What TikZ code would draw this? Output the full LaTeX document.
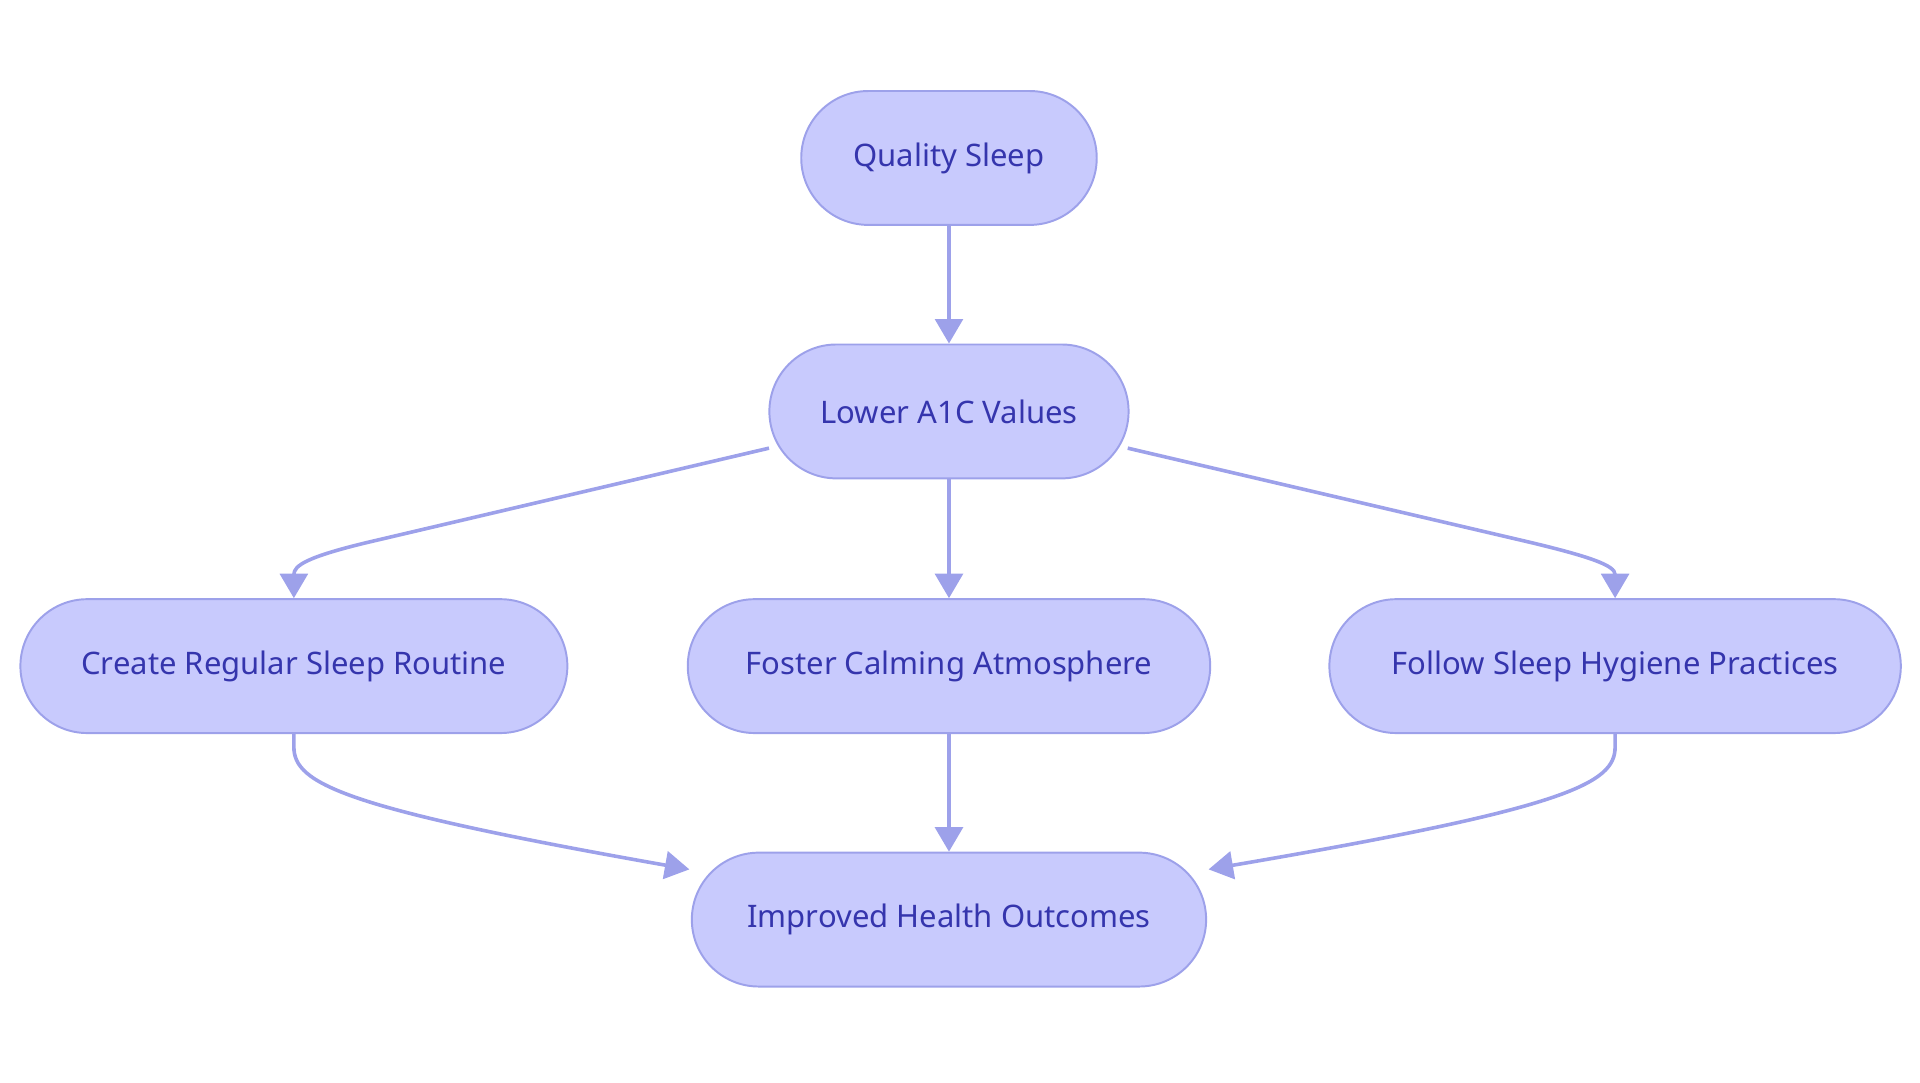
\documentclass[tikz,border=0pt]{standalone}
\usepackage{fontspec}
\setmainfont{Noto Sans}
\usetikzlibrary{arrows.meta}
\definecolor{nfill}{HTML}{C8CAFD}
\definecolor{nline}{HTML}{9DA1EA}
\definecolor{ntext}{HTML}{3535AD}
\begin{document}
\begin{tikzpicture}[x=0.75pt,y=-0.75pt,
  box/.style={draw=nline,line width=1.2pt,fill=nfill,rounded corners=41pt,minimum height=82pt,inner sep=0pt,text=ntext,font=\fontsize{19}{23}\selectfont},
  edge/.style={draw=nline,line width=2.2pt,-{Triangle[length=15pt,width=17pt]}}]
\useasboundingbox (0,0) rectangle (1568,884);
\node[box,minimum width=181pt] (qs) at (775,129) {Quality Sleep};
\node[box,minimum width=220pt] (a1c) at (775,336) {Lower A1C Values};
\node[box,minimum width=335pt] (cr) at (240,544) {Create Regular Sleep Routine};
\node[box,minimum width=320pt] (fc) at (775,544) {Foster Calming Atmosphere};
\node[box,minimum width=350pt] (fs) at (1319,544) {Follow Sleep Hygiene Practices};
\node[box,minimum width=315pt] (ih) at (775,751) {Improved Health Outcomes};
\coordinate (a1cl) at (628,366);
\coordinate (a1cr) at (921,366);
\coordinate (ihl) at (563,710);
\coordinate (ihr) at (987,710);
\draw[edge] (qs) -- (a1c);
\draw[edge] (a1c) -- (fc);
\draw[edge] (fc) -- (ih);
\draw[edge] (a1cl) -- (300,443) .. controls (250,455) and (240,462) .. (cr.north);
\draw[edge] (a1cr) -- (1250,443) .. controls (1300,455) and (1319,462) .. (fs.north);
\draw[edge] (cr.south) -- (240,610) .. controls (240,640) and (280,660) .. (ihl);
\draw[edge] (fs.south) -- (1319,610) .. controls (1319,640) and (1280,660) .. (ihr);
\end{tikzpicture}
\end{document}
